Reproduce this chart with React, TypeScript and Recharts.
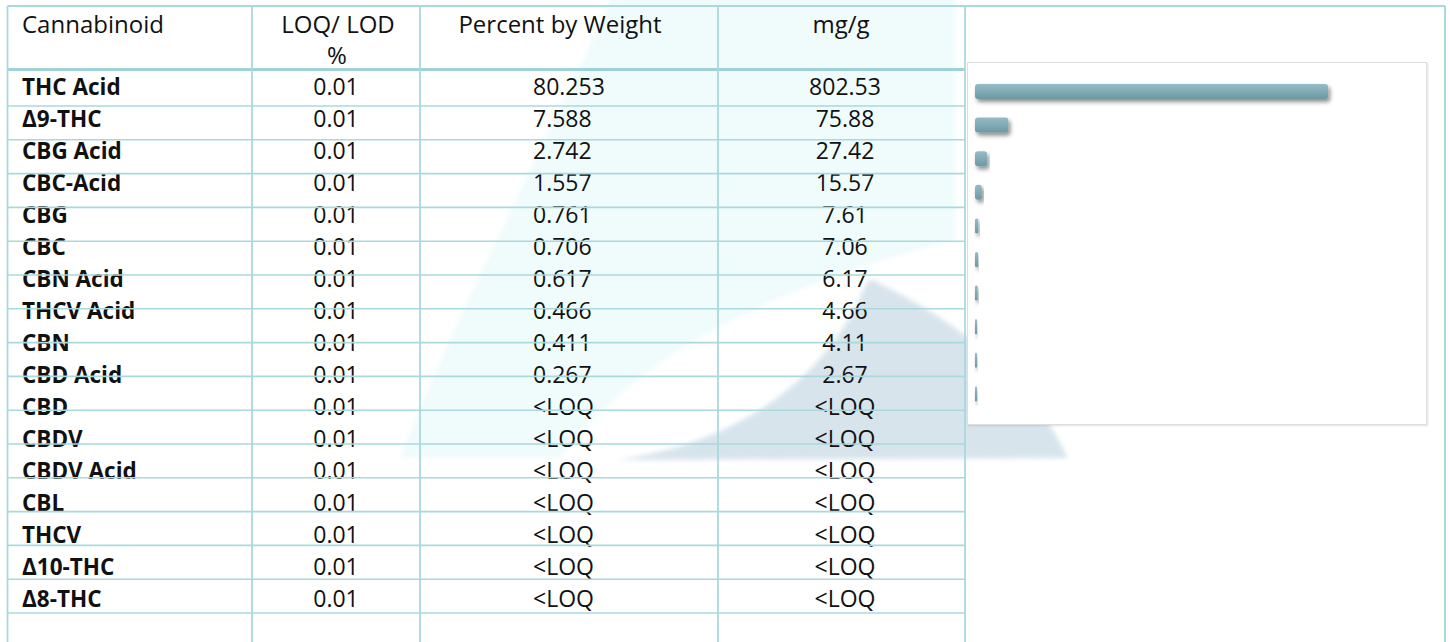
import { BarChart, Bar, XAxis, YAxis } from "recharts";

const cannabinoids = [
  "THC Acid", "Δ9-THC", "CBG Acid", "CBC-Acid", "CBG", "CBC", "CBN Acid", "THCV Acid", "CBN",
  "CBD Acid", "CBD", "CBDV", "CBDV Acid", "CBL", "THCV", "Δ10-THC", "Δ8-THC",
];
const loqLod = [
  "0.01", "0.01", "0.01", "0.01", "0.01", "0.01", "0.01", "0.01", "0.01",
  "0.01", "0.01", "0.01", "0.01", "0.01", "0.01", "0.01", "0.01",
];
const percentByWeight = [
  "80.253", "7.588", "2.742", "1.557", "0.761", "0.706", "0.617", "0.466", "0.411",
  "0.267", "<LOQ", "<LOQ", "<LOQ", "<LOQ", "<LOQ", "<LOQ", "<LOQ",
];
const mgPerGram = [
  "802.53", "75.88", "27.42", "15.57", "7.61", "7.06", "6.17", "4.66", "4.11",
  "2.67", "<LOQ", "<LOQ", "<LOQ", "<LOQ", "<LOQ", "<LOQ", "<LOQ",
];
// percent by weight of the quantified ones, drawn in the side chart
const chartValues = [80.253, 7.588, 2.742, 1.557, 0.761, 0.706, 0.617, 0.466, 0.411, 0.267];

const chartData = chartValues.map((v, i) => ({ name: cannabinoids[i], value: v }));

const FONT = "'Open Sans', sans-serif";
const LINE = "#a9d9dd";
const colX = [7.5, 252, 420, 718, 965];
const rightEdge = 1445;
const baseline = (i: number) => 95 + 31.97 * i;
const rowLines = Array.from({ length: 16 }, (_, k) => 106 + 33.8 * k);

const BarShape = (props: any) => {
  const { x, y, width, height } = props;
  const w = Math.max(width, 2);
  return (
    <rect
      x={x}
      y={y}
      width={w}
      height={height}
      rx={Math.min(3, w / 2)}
      fill="url(#barGrad)"
      filter="url(#barShadow)"
    />
  );
};

const Table = () => (
  <svg width={1450} height={642} style={{ position: "absolute", left: 0, top: 0 }}>
    <defs>
      <filter id="soft" x="-5%" y="-5%" width="110%" height="110%">
        <feGaussianBlur stdDeviation={2.5} />
      </filter>
    </defs>
    {/* watermark */}
    <path
      d="M 614 -10 C 560 120 470 280 400 458 L 560 458 C 620 380 720 300 955 240 L 955 -10 Z"
      fill="#f0fbfc"
      filter="url(#soft)"
    />
    <path
      d="M 615 460 C 730 445 825 385 866 284 Q 871 276 880 284 C 960 322 1030 380 1068 458 Z"
      fill="#d7e4ec"
      filter="url(#soft)"
    />

    {/* header */}
    <g fontFamily={FONT} fontSize={24} fill="#111">
      <text x={22} y={33}>Cannabinoid</text>
      <text x={338} y={33} textAnchor="middle">LOQ/ LOD</text>
      <text x={337} y={64} textAnchor="middle">%</text>
      <text x={560} y={33} textAnchor="middle">Percent by Weight</text>
      <text x={841} y={33} textAnchor="middle">mg/g</text>
    </g>

    {/* rows */}
    <g fontFamily={FONT} fontSize={23} fill="#111">
      {cannabinoids.map((c, i) => (
        <g key={c}>
          <text x={22} y={baseline(i)} fontWeight={700} fontSize={22.5}>{c}</text>
          <text x={336} y={baseline(i)} textAnchor="middle">{loqLod[i]}</text>
          <text x={533} y={baseline(i)}>{percentByWeight[i]}</text>
          <text x={845} y={baseline(i)} textAnchor="middle">{mgPerGram[i]}</text>
        </g>
      ))}
    </g>

    {/* grid */}
    <g stroke={LINE}>
      <line x1={colX[0]} y1={6} x2={rightEdge} y2={6} strokeWidth={2} />
      <line x1={colX[0]} y1={69.5} x2={colX[4]} y2={69.5} strokeWidth={3} stroke="#9fd2d8" />
      {rowLines.map((y) => (
        <line key={y} x1={colX[0]} y1={y} x2={colX[4]} y2={y} strokeWidth={1.6} />
      ))}
      {colX.map((x) => (
        <line key={x} x1={x} y1={6} x2={x} y2={642} strokeWidth={1.8} />
      ))}
      <line x1={rightEdge} y1={6} x2={rightEdge} y2={642} strokeWidth={2} />
    </g>
  </svg>
);

export default function App() {
  return (
    <div style={{ position: "absolute", left: 0, top: 0, width: 1450, height: 642, background: "#fff" }}>
      <Table />
      <div
        style={{
          position: "absolute",
          left: 967,
          top: 62,
          width: 460,
          height: 363,
          boxSizing: "border-box",
          background: "#fff",
          border: "1px solid #dedede",
          boxShadow: "1px 1px 2px rgba(0,0,0,0.12)",
        }}
      />
      <div style={{ position: "absolute", left: 967, top: 62 }}>
        <BarChart
          width={460}
          height={363}
          data={chartData}
          layout="vertical"
          margin={{ top: 13, right: 12, bottom: 14, left: 8 }}
        >
          <defs>
            <linearGradient id="barGrad" x1="0" y1="0" x2="0" y2="1">
              <stop offset="0%" stopColor="#96bcc6" />
              <stop offset="100%" stopColor="#6c98a4" />
            </linearGradient>
            <filter id="barShadow" x="-20%" y="-50%" width="140%" height="250%">
              <feDropShadow dx={2} dy={3} stdDeviation={2} floodColor="#000" floodOpacity={0.45} />
            </filter>
          </defs>
          <XAxis type="number" domain={[0, 100]} hide />
          <YAxis type="category" dataKey="name" hide />
          <Bar dataKey="value" barSize={15} shape={BarShape} isAnimationActive={false} />
        </BarChart>
      </div>
    </div>
  );
}
